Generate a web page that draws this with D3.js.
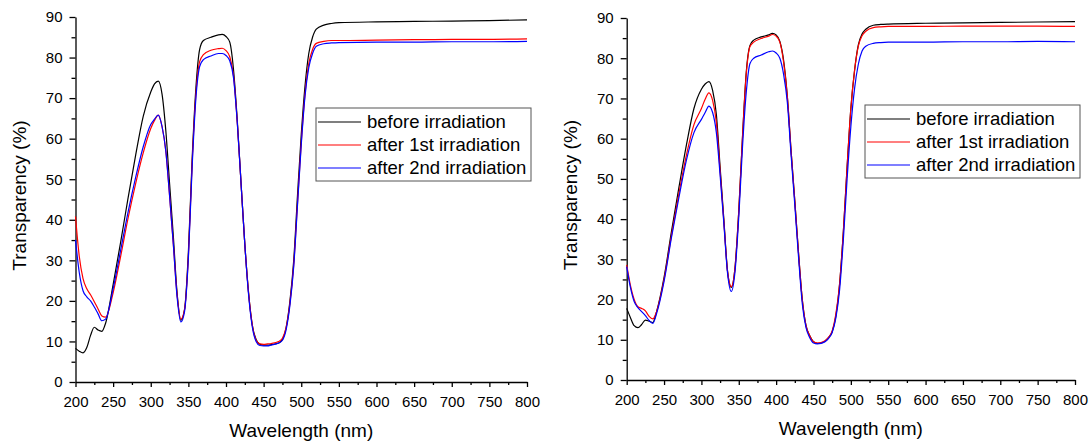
<!DOCTYPE html>
<html>
<head>
<meta charset="utf-8">
<script src="https://cdn.jsdelivr.net/npm/d3@7"></script>
<style>
  body { margin: 0; background: #fff; }
  svg { font-family: "Liberation Sans", Arial, sans-serif; }
  .axis path, .axis line { stroke: #000; stroke-width: 1.3; }
  .axis text { font-size: 15px; fill: #000; }
  .axis-title { font-size: 19px; fill: #000; }
  .legend text { font-size: 18.5px; fill: #000; }
</style>
</head>
<body>
<div id="chart"></div>
<script>
// wavelength grid (nm) shared by every curve
var wavelength = [200,205,210,215,220,225,230,235,240,
  250,260,270,280,290,300,
  305,310,315,320,325,330,335,340,345,350,355,360,365,
  370,380,390,395,400,
  405,410,415,420,425,430,435,440,445,450,455,
  460,470,475,
  480,485,490,495,500,505,510,515,520,
  530,540,550,600,650,700,750,800];

var seriesNames = ["before irradiation", "after 1st irradiation", "after 2nd irradiation"];
var seriesColors = ["#000000", "#ff0000", "#0000ff"];

var xTicks = [200,250,300,350,400,450,500,550,600,650,700,750,800];
var xMinorTicks = [225,275,325,375,425,475,525,575,625,675,725,775];
var yTicks = [0,10,20,30,40,50,60,70,80,90];
var yMinorTicks = [5,15,25,35,45,55,65,75,85];

// left panel, transparency (%)
var leftBefore = [8.3,7.6,7.2,8.5,11.5,13.5,12.8,12.5,14.5,
  24,34.5,45.5,56,65.5,71.5,
  73.5,74.2,71,62,49,36,22,15.2,18,32,55,72.5,82,
  84.2,85,85.6,85.7,85.2,
  83.8,77,64.5,49,34,22,14,10.5,9.3,9.1,9.1,
  9.2,9.6,10.5,
  13.5,20,30,46,61,73,81,85,87,
  88,88.4,88.6,88.8,88.9,89,89.1,89.3];
var leftFirst = [40.8,31,25.5,23,21.5,19.8,18,16.3,16,
  22,31,40.5,49,56.5,62.5,
  64.5,65.8,63,57,46,34,21.5,15.5,18,31,54,71,79,
  80.7,81.8,82.2,82.3,81.7,
  80.2,75.5,64,49,34,22,14,10.3,9.4,9.3,9.4,
  9.5,10,10.8,
  13.5,19.5,29,44,59,71,78.5,82,83.5,
  84,84.2,84.2,84.3,84.4,84.5,84.5,84.6];
var leftSecond = [35,27,22.5,21,20,18.5,16.8,15.1,15.5,
  23,32.5,42,50.5,58,63.5,
  64.8,65.8,63,57,46,34,21,14.8,17.5,30.5,53,70,77.8,
  79.5,80.4,81,81,80.5,
  79.2,75,64,49,34,21.5,13.5,10,9,8.9,8.9,
  9.1,9.6,10.3,
  13,19,28.5,43.5,58.5,70.5,77.5,81,82.8,
  83.4,83.6,83.7,83.8,83.8,83.9,83.9,84];

// right panel, transparency (%)
var rightBefore = [17.8,15.5,13.5,13,13.8,14.9,14.6,14.3,17,
  25.5,37,48,58.5,67.5,72.3,
  73.6,74.2,72,66,53,40,27,23,28,42,60.5,76.5,83.2,
  84.5,85.3,85.8,86.2,85.8,
  84.2,79.5,70.5,57,44.5,31.5,20,13.5,11,9.5,9.1,
  9.2,10.5,12,
  16,24,37,53,67.5,77,83.3,86,87.2,
  88.2,88.4,88.5,88.7,88.8,88.9,89,89.1];
var rightFirst = [28.6,23.5,20,18.2,17.8,17.2,15.8,15.2,17,
  25,36,46.5,56,63.5,67.5,
  69.8,71.4,69.5,64,52,39.5,27,23.2,28,42,60.5,76,82.9,
  84,84.9,85.5,85.9,85.5,
  84,79,70.5,57,44.5,31.5,20,13.5,11,9.5,9.2,
  9.3,10.6,12.2,
  16.5,24,37,53,67.5,77,83,85.6,86.7,
  87.6,87.8,87.9,87.9,88,88,88,87.9];
var rightSecond = [28.2,23,19.5,18,17,16,14.8,14.1,16.5,
  24.5,35.5,45.5,54.7,61.5,64.8,
  66.5,68.1,66.5,61.5,51,39,26.5,22,27,40.5,58,71.5,78.7,
  80,80.8,81.6,81.8,81.3,
  80,76,69,56,43.5,30.5,19,13,10.5,9.2,9,
  9.1,10.3,11.8,
  15.5,22.5,35,50,63,72.5,78.5,81.8,83,
  83.7,83.9,84,84,84.1,84.1,84.2,84.1];

var svg = d3.select("#chart")
  .append("svg")
    .attr("width", 1092)
    .attr("height", 444);

var panels = [
  {left: 75.5, top: 17, width: 451.5, height: 365, legendX: 240.5, legendY: 91,
   series: [leftBefore, leftFirst, leftSecond]},
  {left: 626.7, top: 18, width: 448.3, height: 362, legendX: 238.3, legendY: 87,
   series: [rightBefore, rightFirst, rightSecond]}
];

function drawPanel(p) {
  var g = svg.append("g")
    .attr("transform", "translate(" + p.left + "," + p.top + ")");

  var x = d3.scaleLinear().domain([200, 800]).range([0, p.width]);
  var y = d3.scaleLinear().domain([0, 90]).range([p.height, 0]);

  // minor ticks
  g.append("g")
    .attr("class", "axis")
    .attr("transform", "translate(0," + p.height + ")")
    .call(d3.axisBottom(x).tickValues(xMinorTicks).tickSize(3).tickFormat(""))
    .select(".domain").remove();
  g.append("g")
    .attr("class", "axis")
    .call(d3.axisLeft(y).tickValues(yMinorTicks).tickSize(4).tickFormat(""))
    .select(".domain").remove();

  // main axes
  g.append("g")
    .attr("class", "axis")
    .attr("transform", "translate(0," + p.height + ")")
    .call(d3.axisBottom(x).tickValues(xTicks).tickSize(5).tickSizeOuter(0).tickPadding(9));
  g.append("g")
    .attr("class", "axis")
    .call(d3.axisLeft(y).tickValues(yTicks).tickSize(6).tickSizeOuter(0).tickPadding(7));

  // curves
  var line = d3.line()
    .x(function(d, i) { return x(wavelength[i]); })
    .y(function(d) { return y(d); })
    .curve(d3.curveMonotoneX);

  p.series.forEach(function(s, i) {
    g.append("path")
      .datum(s)
      .attr("fill", "none")
      .attr("stroke", seriesColors[i])
      .attr("stroke-width", 1.2)
      .attr("d", line);
  });

  // axis titles
  g.append("text")
    .attr("class", "axis-title")
    .attr("text-anchor", "middle")
    .attr("x", p.width / 2)
    .attr("y", p.height + 54.5)
    .text("Wavelength (nm)");
  g.append("text")
    .attr("class", "axis-title")
    .attr("text-anchor", "middle")
    .attr("transform", "rotate(-90)")
    .attr("x", -p.height / 2 + 4)
    .attr("y", -50)
    .text("Transparency (%)");

  // legend
  var lg = g.append("g")
    .attr("class", "legend")
    .attr("transform", "translate(" + p.legendX + "," + p.legendY + ")");
  lg.append("rect")
    .attr("width", 215)
    .attr("height", 73)
    .attr("fill", "#fff")
    .attr("stroke", "#555")
    .attr("stroke-width", 1);
  seriesNames.forEach(function(name, i) {
    var ly = 14 + i * 23;
    lg.append("line")
      .attr("x1", 2).attr("x2", 45)
      .attr("y1", ly).attr("y2", ly)
      .attr("stroke", seriesColors[i])
      .attr("stroke-width", 1.2);
    lg.append("text")
      .attr("x", 51)
      .attr("y", ly)
      .attr("dy", "0.35em")
      .text(name);
  });
}

panels.forEach(drawPanel);
</script>
</body>
</html>
